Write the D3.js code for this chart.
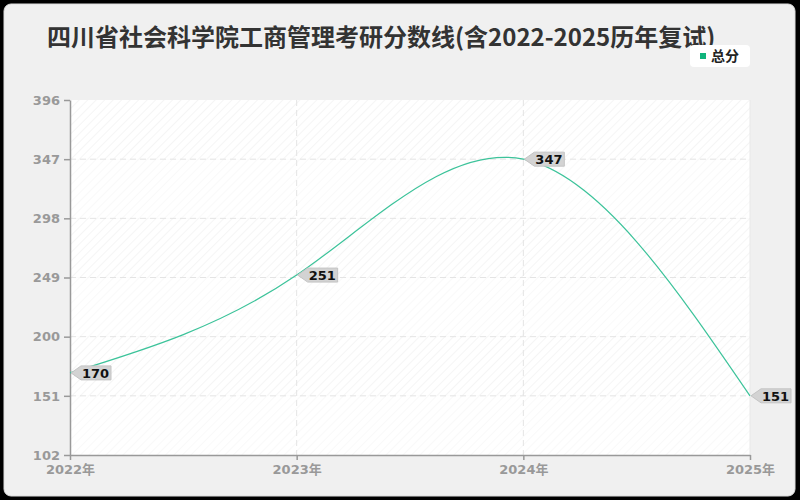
<!DOCTYPE html>
<html>
<head>
<meta charset="utf-8">
<script src="https://cdn.jsdelivr.net/npm/d3@7"></script>
<style>
  html, body { margin: 0; padding: 0; background: #000; }
  svg { display: block; font-family: "Noto Sans CJK SC", "Noto Sans", sans-serif; }
</style>
</head>
<body>
<svg id="chart" width="800" height="500"></svg>
<script>
// data
const years = ['2022年', '2023年', '2024年', '2025年']
const scores = [170, 251, 347, 151]
const yTicks = [102, 151, 200, 249, 298, 347, 396]
const seriesName = '总分'
const title = '四川省社会科学院工商管理考研分数线(含2022-2025历年复试)'

const numFont = '"DejaVu Sans", "Noto Sans CJK SC", sans-serif'

const margin = { top: 100, right: 50, bottom: 45, left: 70 },
  width = 800 - margin.left - margin.right,
  height = 500 - margin.top - margin.bottom

const svg = d3.select('#chart')

// card
svg.append('rect')
  .attr('x', 4).attr('y', 4)
  .attr('width', 791).attr('height', 492)
  .attr('rx', 7)
  .attr('fill', '#f0f0f0')
  .attr('stroke', '#ddd')

// hatch patterns for the bands
const defs = svg.append('defs')
function hatch(id, color) {
  const p = defs.append('pattern')
    .attr('id', id)
    .attr('patternUnits', 'userSpaceOnUse')
    .attr('width', 6).attr('height', 6)
    .attr('patternTransform', 'rotate(45)')
  p.append('rect').attr('width', 6).attr('height', 6).attr('fill', '#fff')
  p.append('line').attr('x1', 0).attr('y1', 0).attr('x2', 0).attr('y2', 6)
    .attr('stroke', color).attr('stroke-width', 1.5)
}
hatch('hatchA', '#f2f2f2')
hatch('hatchB', '#f8f8f8')

svg.append('text')
  .attr('x', 47).attr('y', 46)
  .attr('font-size', 24)
  .attr('font-weight', 'bold')
  .attr('fill', '#333')
  .text(title)

const g = svg.append('g')
  .attr('transform', 'translate(' + margin.left + ',' + margin.top + ')')

const x = d3.scalePoint()
  .domain(years)
  .range([0, width])

const y = d3.scaleLinear()
  .domain([d3.min(yTicks), d3.max(yTicks)])
  .range([height, 0])

// alternating bands
const bands = d3.pairs(yTicks.slice().reverse())
g.selectAll('.band')
  .data(bands)
  .enter()
  .append('rect')
  .attr('x', 0)
  .attr('y', d => y(d[0]))
  .attr('width', width)
  .attr('height', d => y(d[1]) - y(d[0]))
  .attr('fill', (d, i) => i % 2 === 0 ? 'url(#hatchA)' : 'url(#hatchB)')

// grid
g.selectAll('.hgrid')
  .data(yTicks.slice(1, -1))
  .enter()
  .append('line')
  .attr('x1', 0).attr('x2', width)
  .attr('y1', d => y(d)).attr('y2', d => y(d))
  .attr('stroke', '#e4e4e4')
  .attr('stroke-dasharray', '6,4')
g.selectAll('.vgrid')
  .data(years.slice(1, -1))
  .enter()
  .append('line')
  .attr('x1', d => x(d)).attr('x2', d => x(d))
  .attr('y1', 0).attr('y2', height)
  .attr('stroke', '#e4e4e4')
  .attr('stroke-dasharray', '6,4')
g.append('line')
  .attr('x1', width).attr('x2', width)
  .attr('y1', 0).attr('y2', height)
  .attr('stroke', '#e8e8e8')

// axes
const yAxis = g.append('g')
  .call(d3.axisLeft(y).tickValues(yTicks).tickSize(6).tickPadding(4).tickSizeOuter(0))
const xAxis = g.append('g')
  .attr('transform', 'translate(0,' + height + ')')
  .call(d3.axisBottom(x).tickSize(5).tickPadding(2).tickSizeOuter(0))
;[yAxis, xAxis].forEach(a => {
  a.select('.domain').attr('stroke', '#999').attr('stroke-width', 1.5)
  a.selectAll('.tick line').attr('stroke', '#999').attr('stroke-width', 1.5)
  a.selectAll('.tick text')
    .attr('fill', '#999')
    .attr('font-size', 13)
    .attr('font-weight', 'bold')
    .attr('font-family', numFont)
})
xAxis.selectAll('.tick text').attr('dy', '0.95em')

// line
const line = d3.line()
  .curve(d3.curveNatural)
  .x((d, i) => x(years[i]))
  .y(d => y(d))
g.append('path')
  .datum(scores)
  .attr('fill', 'none')
  .attr('stroke', '#3cc39a')
  .attr('stroke-width', 1.2)
  .attr('d', line)

// value labels
const labels = g.selectAll('.lbl')
  .data(scores)
  .enter()
  .append('g')
  .attr('transform', (d, i) => 'translate(' + (x(years[i]) + 1) + ',' + y(d) + ')')
labels.append('path')
  .attr('d', 'M0,0 L10,-7 L40,-7 L40,7 L10,7 Z')
  .attr('fill', '#d3d3d3')
  .attr('stroke', '#c4c4c4')
labels.append('text')
  .attr('x', 11).attr('y', 5)
  .attr('font-size', 13)
  .attr('font-weight', 'bold')
  .attr('font-family', numFont)
  .attr('fill', '#111')
  .text(d => d)

// legend
const lg = svg.append('g').attr('transform', 'translate(690,45)')
lg.append('rect')
  .attr('width', 60).attr('height', 22).attr('rx', 4)
  .attr('fill', '#fff')
lg.append('rect')
  .attr('x', 10).attr('y', 8).attr('width', 6).attr('height', 6)
  .attr('fill', '#10b47c')
lg.append('text')
  .attr('x', 21).attr('y', 16)
  .attr('font-size', 14)
  .attr('font-weight', 'bold')
  .attr('fill', '#222')
  .text(seriesName)
</script>
</body>
</html>
